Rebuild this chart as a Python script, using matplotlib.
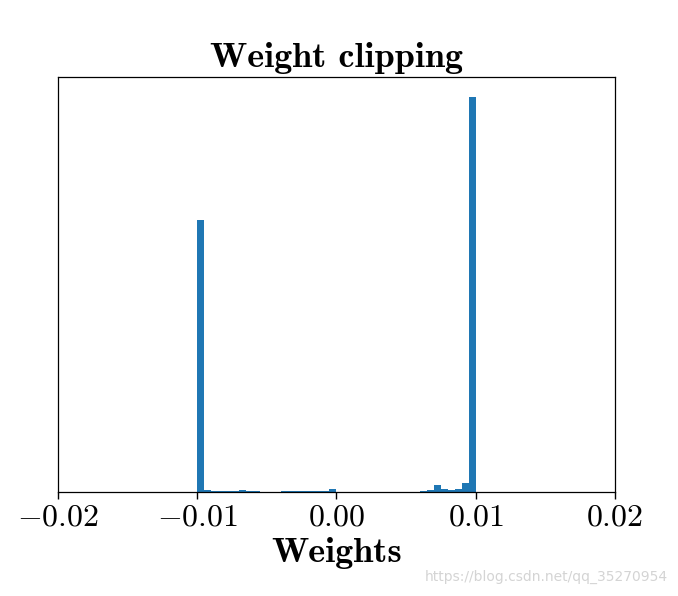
"""
Histogram of clipped critic weights (WGAN weight clipping).
"""
import numpy as np
import matplotlib
matplotlib.use("Agg")
import matplotlib.pyplot as plt

# Histogram counts per bin, bins of width 0.0005 from -0.01 to 0.01
bin_edges = np.linspace(-0.01, 0.01, 41)
counts = [
    272, 1.5, 0.5, 0.5, 0.5, 0.5, 2, 1, 0.5, 0.3,
    0.3, 0.3, 1, 0.5, 1, 1, 0.5, 1, 0.5, 2.5,
    0, 0, 0, 0, 0, 0, 0, 0, 0, 0,
    0, 0, 0.5, 1.5, 7, 3, 2, 2.5, 9, 395,
]
xticks = [-0.02, -0.01, 0.0, 0.01, 0.02]

plt.rcParams["font.family"] = "serif"
plt.rcParams["font.serif"] = ["cmr10"]
plt.rcParams["mathtext.fontset"] = "cm"
plt.rcParams["axes.formatter.use_mathtext"] = True

fig = plt.figure(figsize=(6.78, 5.96), dpi=100)
ax = fig.add_axes([0.0855, 0.1745, 0.8215, 0.6963])

centers = (bin_edges[:-1] + bin_edges[1:]) / 2
ax.hist(centers, bins=bin_edges, weights=counts, color="#1f77b4")

ax.set_xlim(-0.02, 0.02)
ax.set_xticks(xticks)
ax.set_yticks([])
ax.tick_params(axis="x", labelsize=23, length=5, width=1)
for sp in ax.spines.values():
    sp.set_linewidth(0.9)

ax.set_title("Weight clipping", family="cmb10", fontsize=26, pad=7)
ax.set_xlabel("Weights", family="cmb10", fontsize=26, labelpad=4)

fig.text(0.985, 0.02, "https://blog.csdn.net/qq_35270954", ha="right", va="bottom",
         family="DejaVu Sans", fontsize=10, color="#d4d4d4")

fig.savefig("out.png", dpi=100)
plt.close(fig)
